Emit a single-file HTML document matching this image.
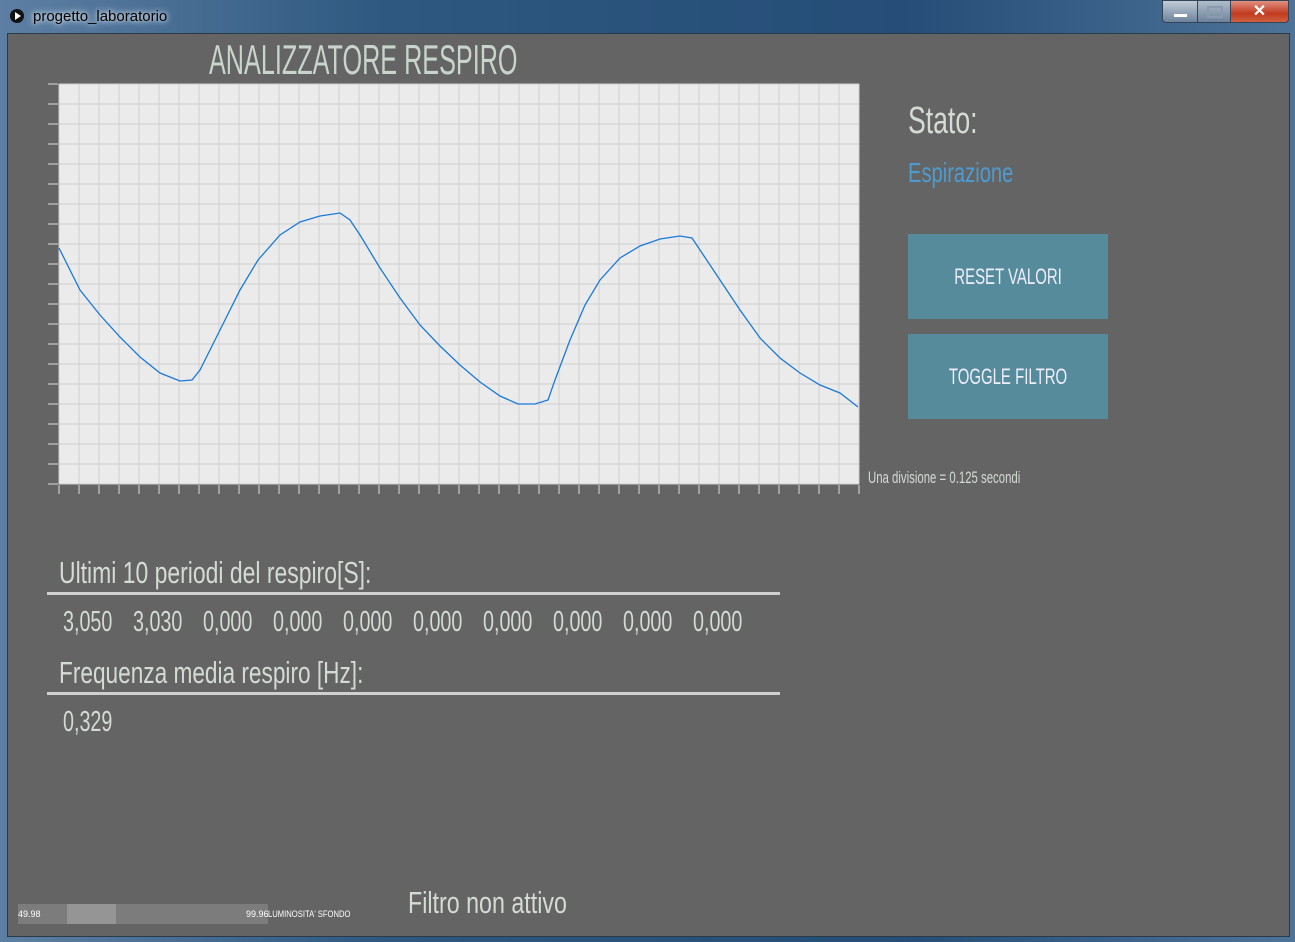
<!DOCTYPE html>
<html><head><meta charset="utf-8"><style>
body{margin:0;width:1295px;height:942px;overflow:hidden;background:linear-gradient(90deg,#5d7fa3,#2e5880 30%,#254d77 70%,#4d7398);font-family:"Liberation Sans",sans-serif;position:relative}
.t{position:absolute;white-space:nowrap;font-family:"Liberation Sans Narrow","Liberation Sans",sans-serif;color:#d4dad4;transform-origin:0 0}
#client{position:absolute;left:7px;top:33px;width:1281px;height:902px;background:#646464;border:1px solid #2a3a4a}
.btn{position:absolute;background:#568b9b;color:#eef;font-family:"Liberation Sans Narrow","Liberation Sans",sans-serif;font-size:22px;display:flex;align-items:center;justify-content:center}
.hr{position:absolute;height:3px;background:#d0d0d0}
.pv{position:absolute;top:606px;font-size:29px;transform:scaleX(0.68)}
</style></head><body>
<div style="position:absolute;left:0;top:0;width:1295px;height:32px">
 <div style="position:absolute;left:10px;top:9px;width:14px;height:14px;border-radius:50%;background:#111"><div style="position:absolute;left:5px;top:3px;border-left:6px solid #fff;border-top:4px solid transparent;border-bottom:4px solid transparent"></div></div>
 <div style="position:absolute;left:33px;top:8px;font-size:15px;color:#000;text-shadow:0 0 8px #dde6f0,0 0 4px #dde6f0">progetto_laboratorio</div>
 <div style="position:absolute;left:1162px;top:0;width:34px;height:21px;background:linear-gradient(#c0ccd8,#6d839b);border:1px solid #345;border-radius:0 0 0 4px"><div style="position:absolute;left:11px;top:13px;width:13px;height:3px;background:#fff"></div></div>
 <div style="position:absolute;left:1197px;top:0;width:32px;height:21px;background:linear-gradient(#b0bccb,#6d839b);border:1px solid #345"><div style="position:absolute;left:9px;top:5px;width:12px;height:8px;border:2px solid #8a9bb0"></div></div>
 <div style="position:absolute;left:1230px;top:0;width:57px;height:21px;background:linear-gradient(#e09080,#c23a20 60%,#d06040);border:1px solid #345;border-radius:0 0 4px 0;color:#fff;font-weight:bold;font-size:16px;text-align:center;line-height:21px">✕</div>
</div>
<div id="client"></div>
<div class="t" style="left:209px;top:36px;font-size:42px;transform:scaleX(0.6);color:#c8d4cc">ANALIZZATORE RESPIRO</div>
<svg id="chart" style="position:absolute;left:0;top:0" width="1295" height="942"></svg>
<div class="t" style="left:868px;top:468px;font-size:17px;transform:scaleX(0.67)">Una divisione = 0.125 secondi</div>
<div class="t" style="left:908px;top:100px;font-size:38px;transform:scaleX(0.7)">Stato:</div>
<div class="t" style="left:908px;top:157px;font-size:28px;transform:scaleX(0.72);color:#4d9bd0">Espirazione</div>
<div class="btn" style="left:908px;top:234px;width:200px;height:85px"><span style="transform:scaleX(.68);display:inline-block">RESET VALORI</span></div>
<div class="btn" style="left:908px;top:334px;width:200px;height:85px"><span style="transform:scaleX(.68);display:inline-block">TOGGLE FILTRO</span></div>
<div class="t" style="left:59px;top:555px;font-size:31px;transform:scaleX(0.74)">Ultimi 10 periodi del respiro[S]:</div>
<div class="hr" style="left:47px;top:592px;width:733px"></div>
<div class="t pv" style="left:63px">3,050</div>
<div class="t pv" style="left:133px">3,030</div>
<div class="t pv" style="left:203px">0,000</div>
<div class="t pv" style="left:273px">0,000</div>
<div class="t pv" style="left:343px">0,000</div>
<div class="t pv" style="left:413px">0,000</div>
<div class="t pv" style="left:483px">0,000</div>
<div class="t pv" style="left:553px">0,000</div>
<div class="t pv" style="left:623px">0,000</div>
<div class="t pv" style="left:693px">0,000</div>
<div class="t" style="left:59px;top:655px;font-size:31px;transform:scaleX(0.73)">Frequenza media respiro [Hz]:</div>
<div class="hr" style="left:47px;top:692px;width:733px"></div>
<div class="t" style="left:63px;top:706px;font-size:29px;transform:scaleX(0.68)">0,329</div>
<div style="position:absolute;left:18px;top:904px;width:250px;height:20px;background:#7c7c7c">
 <div style="position:absolute;left:49px;top:0;width:49px;height:20px;background:#959595"></div>
 <div style="position:absolute;left:0;top:5px;font-size:9px;color:#fff">49.98</div>
 <div style="position:absolute;left:228px;top:5px;font-size:9px;color:#fff">99.96</div>
</div>
<div class="t" style="left:268px;top:909px;font-size:9px;color:#fff;transform:scaleX(0.85)">LUMINOSITA' SFONDO</div>
<div class="t" style="left:408px;top:885px;font-size:31px;transform:scaleX(0.75)">Filtro non attivo</div>
<script>
const sampleX=[0,21,41,61,81,101,121,133,141,161,181,199,221,241,261,281,291,301,321,341,361,381,401,421,441,459,476,489,496,511,526,541,561,581,601,621,633,641,661,681,701,721,741,761,781,799];
const signal=[236,194,169,147,127,111,103,104,114,154,194,224,249,262,268,271,264,249,216,186,159,138,119,102,88,80,80,84,104,144,179,204,226,238,245,248,246,234,204,174,146,126,111,99,91,77];
const svg=document.getElementById('chart');
const NS='http://www.w3.org/2000/svg';
const L=59,T=84,W=800,H=400;
const xs=v=>L+v, ys=v=>T+H-v;
function el(n,a){const e=document.createElementNS(NS,n);for(const k in a)e.setAttribute(k,a[k]);svg.appendChild(e);return e;}
const bg=el('rect',{x:L,y:T,width:W,height:H,fill:'#ebebeb'});


for(let i=0;i<=40;i++){const x=L+i*20;
 el('line',{x1:x,y1:T,x2:x,y2:T+H,stroke:'#cfcfcf','stroke-width':1});
 const tk=el('line',{x1:x,y1:T+H+1,x2:x,y2:T+H+10,stroke:'#ddd','stroke-width':1});
 
 }
for(let j=0;j<=20;j++){const y=T+j*20;
 el('line',{x1:L,y1:y,x2:L+W,y2:y,stroke:'#cfcfcf','stroke-width':1});
 const tk=el('line',{x1:L-11,y1:y,x2:L-1,y2:y,stroke:'#ddd','stroke-width':1});
 
 }
const p=el('polyline',{points:sampleX.map((x,i)=>xs(x)+','+ys(signal[i])).join(' '),fill:'none',stroke:'#1a7ad8','stroke-width':1.3});


</script>
</body></html>
